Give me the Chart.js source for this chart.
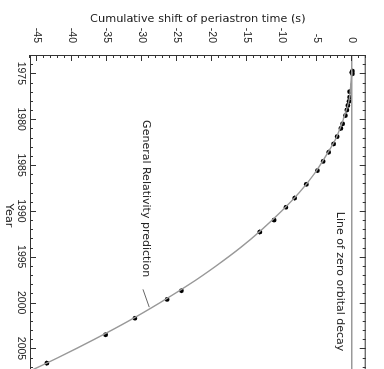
<!DOCTYPE html>
<html>
<head>
<meta charset="utf-8">
<script src="https://cdn.jsdelivr.net/npm/chart.js@4/dist/chart.umd.min.js"></script>
<style>
  html, body { margin:0; padding:0; width:384px; height:369px; overflow:hidden; background:#fff; }
  /* the plot is drawn upright, then turned a quarter clockwise like the scan */
  #wrap { position:absolute; left:0; top:0; width:384px; height:384px;
          transform-origin:0 0; transform:translateX(384px) rotate(90deg); }
</style>
</head>
<body>
<div id="wrap"><canvas id="chart" width="384" height="384"></canvas></div>
<script>
// observed shifts (year, seconds)
const obsYears = [1974.75, 1974.9, 1975.05, 1977.0, 1977.6, 1978.05, 1978.5, 1979.0, 1979.6,
  1980.5, 1981.0, 1981.9, 1982.7, 1983.6, 1984.6, 1985.6, 1987.1, 1988.6, 1989.6,
  1991.0, 1992.3, 1998.7, 1999.65, 2001.7, 2003.5, 2006.6];
const obsShift = [0.1, 0.0, 0.1, -0.3, -0.3, -0.4, -0.55, -0.7, -0.9,
  -1.3, -1.55, -2.1, -2.6, -3.3, -4.1, -4.9, -6.5, -8.15, -9.4,
  -11.1, -13.15, -24.35, -26.4, -31.0, -35.2, -43.6];

// general relativity prediction curve
const grYears = [1974.8, 1976, 1978, 1980, 1982, 1984, 1986, 1988, 1990, 1992,
  1994, 1996, 1998, 2000, 2002, 2004, 2006, 2008];
const grShift = [0, -0.1, -0.4, -1.2, -2.2, -3.7, -5.4, -7.5, -10.0, -12.8,
  -15.9, -19.4, -23.2, -27.4, -31.9, -36.8, -42.0, -47.5];

// no orbital decay
const zeroYears = [1973, 2008];
const zeroShift = [0, 0];

const yearTicks = [1975, 1980, 1985, 1990, 1995, 2000, 2005];
const shiftTicks = [-45, -40, -35, -30, -25, -20, -15, -10, -5, 0];

const toXY = (xs, ys) => xs.map((x, i) => ({x: x, y: ys[i]}));

const textFont = "'DejaVu Sans', Arial, sans-serif";
Chart.defaults.font.family = "'Liberation Sans', Arial, sans-serif";
Chart.defaults.color = '#222';

const framePlugin = {
  id: 'frame',
  afterDatasetsDraw(chart) {
    const {ctx, chartArea: a, scales: {x, y}} = chart;
    ctx.save();
    ctx.strokeStyle = '#333';
    ctx.lineWidth = 1;
    ctx.strokeRect(a.left + 0.5, a.top + 0.5, a.right - a.left - 1, a.bottom - a.top - 1);
    ctx.beginPath();
    for (let v = Math.ceil(x.min); v <= x.max; v++) {
      const px = Math.round(x.getPixelForValue(v)) + 0.5;
      const len = v % 5 === 0 ? 6 : 3;
      ctx.moveTo(px, a.top); ctx.lineTo(px, a.top + len);
      ctx.moveTo(px, a.bottom); ctx.lineTo(px, a.bottom - len);
    }
    for (let v = Math.ceil(y.min); v <= y.max; v++) {
      const py = Math.round(y.getPixelForValue(v)) + 0.5;
      const len = v % 5 === 0 ? 6 : 3;
      ctx.moveTo(a.left, py); ctx.lineTo(a.left + len, py);
      ctx.moveTo(a.right, py); ctx.lineTo(a.right - len, py);
    }
    ctx.stroke();

    // labels
    ctx.fillStyle = '#222';
    ctx.font = "11px " + textFont;
    ctx.textAlign = 'left';
    ctx.textBaseline = 'middle';
    ctx.fillText('General Relativity prediction', x.getPixelForValue(1980.1), y.getPixelForValue(-29.5));
    ctx.fillText('Line of zero orbital decay', x.getPixelForValue(1990.1), y.getPixelForValue(-1.75));
    ctx.strokeStyle = '#666';
    ctx.beginPath();
    ctx.moveTo(x.getPixelForValue(1998.55), y.getPixelForValue(-29.85));
    ctx.lineTo(x.getPixelForValue(2000.5), y.getPixelForValue(-28.95));
    ctx.stroke();
    ctx.restore();
  }
};

new Chart(document.getElementById('chart'), {
  type: 'scatter',
  data: {
    datasets: [
      {
        data: toXY(zeroYears, zeroShift),
        showLine: true,
        borderColor: '#999',
        borderWidth: 1.4,
        pointRadius: 0
      },
      {
        data: toXY(grYears, grShift),
        showLine: true,
        borderColor: '#999',
        borderWidth: 1.4,
        cubicInterpolationMode: 'monotone',
        pointRadius: 0
      },
      {
        data: toXY(obsYears, obsShift),
        pointRadius: 2.4,
        backgroundColor: '#000',
        borderColor: '#000',
        borderWidth: 0
      }
    ]
  },
  options: {
    responsive: false,
    animation: false,
    layout: { padding: { top: 7, right: 8, left: 0, bottom: 0 } },
    plugins: { legend: { display: false }, tooltip: { enabled: false } },
    scales: {
      x: {
        type: 'linear',
        min: 1973, max: 2008,
        grid: { display: false, drawTicks: false },
        border: { display: false },
        afterFit: s => { s.height = 30; },
        afterBuildTicks: s => { s.ticks = yearTicks.map(v => ({value: v})); },
        ticks: { font: { size: 10.5 }, padding: 3, maxRotation: 0, callback: v => String(v) },
        title: { display: true, text: 'Year', font: { size: 11.3, family: textFont }, padding: { bottom: 2, top: 0 } }
      },
      y: {
        min: -46, max: 2,
        grid: { display: false, drawTicks: false },
        border: { display: false },
        afterFit: s => { s.width = 55; },
        afterBuildTicks: s => { s.ticks = shiftTicks.map(v => ({value: v})); },
        ticks: { font: { size: 10.5 }, padding: 12, callback: v => String(v) },
        title: { display: true, text: 'Cumulative shift of periastron time (s)', font: { size: 11.3, family: textFont }, padding: { top: 12, bottom: 0 } }
      }
    }
  },
  plugins: [framePlugin]
});
</script>
</body>
</html>
